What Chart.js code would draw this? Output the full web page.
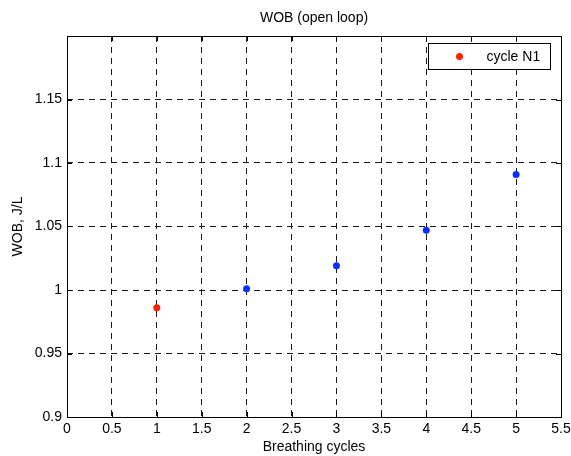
<!DOCTYPE html>
<html>
<head>
<meta charset="utf-8">
<title>WOB (open loop)</title>
<script src="https://cdn.jsdelivr.net/npm/chart.js@4/dist/chart.umd.min.js"></script>
<style>
  html, body { margin: 0; padding: 0; background: #ffffff; }
  canvas { display: block; }
</style>
</head>
<body>
<canvas id="wobChart" width="571" height="456"></canvas>
<script>
// first breathing cycle, shown in the legend
const n1Cycles = [1];
const n1Wob = [0.986];

// following breathing cycles
const laterCycles = [2, 3, 4, 5];
const laterWob = [1.001, 1.019, 1.047, 1.091];

// axis ticks
const xTicks = [0, 0.5, 1, 1.5, 2, 2.5, 3, 3.5, 4, 4.5, 5, 5.5];
const yTicks = [0.9, 0.95, 1, 1.05, 1.1, 1.15, 1.2];
const yHiddenLabels = [1.2];

const chartTitle = "WOB (open loop)";

const FONT = "'Liberation Sans', Arial, Helvetica, sans-serif";

Chart.defaults.font.family = FONT;
Chart.defaults.font.size = 14;
Chart.defaults.color = "#000000";

const toPoints = (xs, ys) => xs.map((x, i) => ({ x, y: ys[i] }));

// title centred over the plot box rather than the whole canvas
const plotTitlePlugin = {
  id: "plotTitle",
  afterDraw(chart) {
    const { ctx, chartArea: a } = chart;
    ctx.save();
    ctx.fillStyle = "#000";
    ctx.font = "14px " + FONT;
    ctx.textAlign = "center";
    ctx.textBaseline = "middle";
    ctx.fillText(chartTitle, (a.left + a.right) / 2, 18);
    ctx.restore();
  }
};

// matlab-style frame: solid box with inward tick marks on all four sides
const framePlugin = {
  id: "frame",
  afterDatasetsDraw(chart) {
    const { ctx, chartArea: a, scales } = chart;
    const len = 5;
    ctx.save();
    ctx.strokeStyle = "#000";
    ctx.lineWidth = 1;
    ctx.beginPath();
    xTicks.forEach(v => {
      const px = Math.round(scales.x.getPixelForValue(v)) + 0.5;
      ctx.moveTo(px, a.bottom); ctx.lineTo(px, a.bottom - len);
      ctx.moveTo(px, a.top); ctx.lineTo(px, a.top + len);
    });
    yTicks.forEach(v => {
      const py = Math.round(scales.y.getPixelForValue(v)) + 0.5;
      ctx.moveTo(a.left, py); ctx.lineTo(a.left + len, py);
      ctx.moveTo(a.right, py); ctx.lineTo(a.right - len, py);
    });
    ctx.stroke();
    ctx.strokeRect(Math.round(a.left) + 0.5, Math.round(a.top) + 0.5,
      Math.round(a.right - a.left), Math.round(a.bottom - a.top));
    ctx.restore();
  }
};

// boxed legend in the upper right corner for the first dataset only
const legendBoxPlugin = {
  id: "legendBox",
  afterDraw(chart) {
    const { ctx, chartArea: a } = chart;
    const ds = chart.data.datasets[0];
    const w = 122, h = 26;
    const x = Math.round(a.right - 11 - w) + 0.5;
    const y = Math.round(a.top + 7) + 0.5;
    ctx.save();
    ctx.fillStyle = "#ffffff";
    ctx.fillRect(x, y, w, h);
    ctx.strokeStyle = "#000";
    ctx.lineWidth = 1;
    ctx.strokeRect(x, y, w, h);
    ctx.fillStyle = ds.backgroundColor;
    ctx.beginPath();
    ctx.arc(x + 31, y + h / 2, ds.pointRadius, 0, Math.PI * 2);
    ctx.fill();
    ctx.fillStyle = "#000";
    ctx.font = "14px " + FONT;
    ctx.textBaseline = "middle";
    ctx.fillText(ds.label, x + 58, y + h / 2 + 1);
    ctx.restore();
  }
};

const gridStyle = {
  color: "#1a1a1a",
  lineWidth: 1,
  drawTicks: false
};

new Chart(document.getElementById("wobChart"), {
  type: "scatter",
  data: {
    datasets: [
      {
        label: "cycle N1",
        data: toPoints(n1Cycles, n1Wob),
        backgroundColor: "#ff2200",
        borderColor: "#ff2200",
        pointRadius: 3.5,
        borderWidth: 0
      },
      {
        label: "cycles 2-5",
        data: toPoints(laterCycles, laterWob),
        backgroundColor: "#0a30ff",
        borderColor: "#0a30ff",
        pointRadius: 3.5,
        borderWidth: 0
      }
    ]
  },
  options: {
    responsive: false,
    devicePixelRatio: 1,
    animation: false,
    layout: { padding: { left: 0, right: 10, top: 36, bottom: 0 } },
    plugins: {
      legend: { display: false },
      tooltip: { enabled: false },
      title: { display: false }
    },
    scales: {
      x: {
        type: "linear",
        min: 0,
        max: 5.5,
        afterFit(scale) {
          scale.height = 39;
          scale.paddingLeft = 0;
          scale.paddingRight = 0;
        },
        afterBuildTicks(scale) { scale.ticks = xTicks.map(value => ({ value })); },
        ticks: {
          padding: 4,
          maxRotation: 0,
          autoSkip: false,
          callback: v => String(+v.toFixed(2))
        },
        grid: gridStyle,
        border: { display: false, dash: [6, 5] },
        title: {
          display: true,
          text: "Breathing cycles",
          font: { size: 14, lineHeight: 1.2 },
          padding: { top: 0, bottom: 0 }
        }
      },
      y: {
        type: "linear",
        min: 0.9,
        max: 1.2,
        afterFit(scale) {
          scale.width = 67;
          scale.paddingTop = 0;
          scale.paddingBottom = 0;
        },
        afterBuildTicks(scale) { scale.ticks = yTicks.map(value => ({ value })); },
        ticks: {
          padding: 5,
          autoSkip: false,
          callback: v => yHiddenLabels.includes(+v.toFixed(2)) ? "" : String(+v.toFixed(2))
        },
        grid: gridStyle,
        border: { display: false, dash: [6, 5] },
        title: {
          display: true,
          text: "WOB, J/L",
          font: { size: 14, lineHeight: 1.2 },
          padding: { top: 9.6, bottom: 0 }
        }
      }
    }
  },
  plugins: [framePlugin, legendBoxPlugin, plotTitlePlugin]
});
</script>
</body>
</html>
